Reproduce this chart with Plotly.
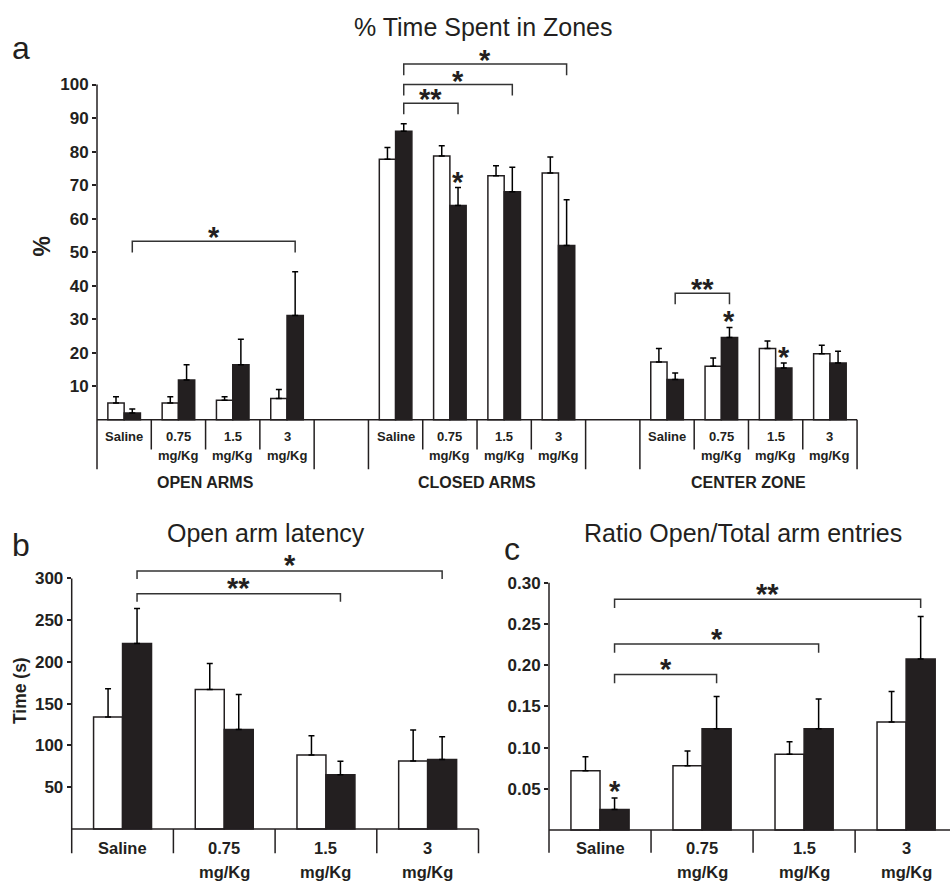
import plotly.graph_objects as go

W, H = 950, 882
FONT = "Liberation Sans, Arial, Helvetica, sans-serif"
INK = "#231f20"

# ---------------- data ----------------
doses_top = ["Saline", "0.75", "1.5", "3"]
doses_bottom = ["", "mg/Kg", "mg/Kg", "mg/Kg"]
zones = ["OPEN ARMS", "CLOSED ARMS", "CENTER ZONE"]

# panel a: % time spent in zones (white = control, black = treated)
open_white = [5.0, 5.0, 5.8, 6.3]
open_white_err = [1.8, 1.8, 1.0, 2.7]
open_black = [2.0, 11.8, 16.4, 31.1]
open_black_err = [1.2, 4.6, 7.6, 13.0]
closed_white = [77.7, 78.7, 72.8, 73.6]
closed_white_err = [3.5, 3.0, 3.0, 4.8]
closed_black = [86.1, 63.9, 68.0, 52.0]
closed_black_err = [2.2, 5.4, 7.3, 13.6]
center_white = [17.2, 15.9, 21.2, 19.7]
center_white_err = [4.0, 2.5, 2.3, 2.5]
center_black = [12.0, 24.5, 15.4, 16.9]
center_black_err = [1.9, 3.0, 1.5, 3.5]

# panel b: open arm latency (s)
latency_white = [134, 167, 88.6, 81.4]
latency_white_err = [34, 31, 23, 37]
latency_black = [222, 119, 65, 83.3]
latency_black_err = [42, 42, 16, 27]

# panel c: ratio open / total arm entries
ratio_white = [0.072, 0.078, 0.092, 0.131]
ratio_white_err = [0.017, 0.018, 0.015, 0.037]
ratio_black = [0.025, 0.123, 0.123, 0.2075]
ratio_black_err = [0.014, 0.039, 0.036, 0.0515]

# significance brackets: (from category slot, to category slot, level, label)
sig_a = [(0, 3, 53.2, "*"), (5, 6, 94.4, "**"), (5, 7, 100.0, "*"),
         (5, 8, 106.1, "*"), (10, 11, 37.7, "**")]
sig_b = [(0, 2, 281.8, "**"), (0, 3, 309.0, "*")]
sig_c = [(0, 1, 0.1887, "*"), (0, 2, 0.2256, "*"), (0, 3, 0.2799, "**")]
# single stars above black bars: (slot, level)
star_a = [(6, 72.4), (11, 30.9), (12, 20.2)]
star_c = [(0, 0.054)]

# ---------------- geometry helpers (layout only) ----------------
def xdom(px0, scale, rng):
    return [px0 / W, min(1.0, (px0 + (rng[1] - rng[0]) * scale) / W)]

def ydom(pzero, scale, rng):
    top = pzero - rng[1] * scale
    bot = pzero - rng[0] * scale
    return [max(0.0, 1 - bot / H), min(1.0, 1 - top / H)]

def px(x):
    return x / W

def py(y):
    return 1 - y / H

rng_xa, rng_ya = [0, 14.15], [-22, 112]
rng_xb, rng_yb = [0, 4.1], [-60, 330]
rng_xc, rng_yc = [0, 3.93], [-0.062, 0.305]

fig = go.Figure()

BW_A, BW_B = 0.30, 0.285
err_style = dict(type="data", symmetric=False, color="black", thickness=1.5, width=3)


def add_pair(xs, white, werr, black, berr, xa, ya, bw):
    fig.add_trace(go.Bar(x=xs, y=white, width=bw, offset=-bw, xaxis=xa, yaxis=ya,
                         marker=dict(color="white", line=dict(color=INK, width=1.5)),
                         error_y=dict(array=werr, arrayminus=[0] * len(werr), **err_style),
                         showlegend=False, hoverinfo="y"))
    fig.add_trace(go.Bar(x=xs, y=black, width=bw, offset=0, xaxis=xa, yaxis=ya,
                         marker=dict(color=INK, line=dict(color=INK, width=1.5)),
                         error_y=dict(array=berr, arrayminus=[0] * len(berr), **err_style),
                         showlegend=False, hoverinfo="y"))


# panel a: three zones, 4 doses each, one empty slot between zones
groups_a = [(open_white, open_white_err, open_black, open_black_err),
            (closed_white, closed_white_err, closed_black, closed_black_err),
            (center_white, center_white_err, center_black, center_black_err)]
for z, (w, we, b, be) in enumerate(groups_a):
    xs = [z * 5 + d + 0.5 for d in range(len(doses_top))]
    add_pair(xs, w, we, b, be, "x", "y", BW_A)

xs4 = [d + 0.5 for d in range(len(doses_top))]
add_pair(xs4, latency_white, latency_white_err, latency_black, latency_black_err, "x2", "y2", BW_B)
add_pair(xs4, ratio_white, ratio_white_err, ratio_black, ratio_black_err, "x3", "y3", BW_B)

shapes = []
annotations = []
LINE = dict(color=INK, width=1.5)
BRK = dict(color="#333333", width=1.5)


def vline(xr, yr, x, y0, y1, line=LINE):
    shapes.append(dict(type="line", xref=xr, yref=yr, x0=x, x1=x, y0=y0, y1=y1, line=line))


def hline(xr, yr, x0, x1, y, line=LINE):
    shapes.append(dict(type="line", xref=xr, yref=yr, x0=x0, x1=x1, y0=y, y1=y, line=line))


# ---- panel a axes / category boxes
vline("x domain", "y", 0, -14.8, 100)
hline("x", "y", 0, 14, 0)
for z in range(3):
    for d in range(5):
        s = z * 5 + d
        if s == 0:
            continue
        long = d in (0, 4)
        vline("x", "y", s, 0, -14.8 if long else -8.9)
    for d in range(4):
        s = z * 5 + d + 0.5
        annotations.append(dict(x=s, y=-5.0, xref="x", yref="y", text=doses_top[d],
                                showarrow=False, font=dict(size=13, family=FONT, color=INK, weight="bold")))
        if doses_bottom[d]:
            annotations.append(dict(x=s, y=-10.6, xref="x", yref="y", text=doses_bottom[d],
                                    showarrow=False, font=dict(size=13, family=FONT, color=INK, weight="bold")))
    annotations.append(dict(x=z * 5 + 2, y=-18.7, xref="x", yref="y", text=zones[z], showarrow=False,
                            font=dict(size=16, family=FONT, color=INK, weight="bold")))

# ---- panels b, c axes / category boxes
for xr, yr, top, drop, lab_top, lab_bot in [("x2", "y2", 300, -28.9, -23.3, -51),
                                            ("x3", "y3", 0.30, -0.0276, -0.0223, -0.0505)]:
    vline(xr + " domain", yr, 0, drop, top)
    hline(xr, yr, 0, 4, 0)
    for d in range(1, 5):
        vline(xr, yr, d, 0, drop)
    for d in range(4):
        annotations.append(dict(x=d + 0.5, y=lab_top, xref=xr, yref=yr, text=doses_top[d], showarrow=False,
                                font=dict(size=16.5, family=FONT, color=INK, weight="bold")))
        if doses_bottom[d]:
            annotations.append(dict(x=d + 0.5, y=lab_bot, xref=xr, yref=yr, text=doses_bottom[d],
                                    showarrow=False, font=dict(size=16.5, family=FONT, color=INK, weight="bold")))


STAR = 29


# ---- significance brackets
def brackets(sig, xr, yr, bw, leg, shift):
    for s0, s1, lev, lab in sig:
        x0 = s0 + 0.5 + bw / 2
        x1 = s1 + 0.5 + bw / 2
        shapes.append(dict(type="path", xref=xr, yref=yr, line=BRK,
                           path=f"M {x0},{lev - leg} L {x0},{lev} L {x1},{lev} L {x1},{lev - leg}"))
        annotations.append(dict(x=(x0 + x1) / 2, y=lev, xref=xr, yref=yr, text=lab, showarrow=False,
                                yanchor="middle", yshift=shift,
                                font=dict(size=STAR, family=FONT, color=INK, weight="bold")))


brackets(sig_a, "x", "y", BW_A, 3.3, 4)
brackets(sig_b, "x2", "y2", BW_B, 9.8, 6)
brackets(sig_c, "x3", "y3", BW_B, 0.0105, 5)
for s, lev in star_a:
    annotations.append(dict(x=s + 0.5 + BW_A / 2, y=lev, xref="x", yref="y", text="*", showarrow=False,
                            yanchor="middle", yshift=-5, font=dict(size=STAR, family=FONT, color=INK, weight="bold")))
for s, lev in star_c:
    annotations.append(dict(x=s + 0.5 + BW_B / 2, y=lev, xref="x3", yref="y3", text="*", showarrow=False,
                            yanchor="middle", yshift=-5, font=dict(size=STAR, family=FONT, color=INK, weight="bold")))

# ---- titles, panel letters, axis titles (paper coords)
def ptext(x, y, text, size, bold=False, angle=0):
    annotations.append(dict(x=px(x), y=py(y), xref="paper", yref="paper", text=text, showarrow=False,
                            textangle=angle, xanchor="center", yanchor="middle",
                            font=dict(size=size, family=FONT, color=INK, weight="bold" if bold else "normal")))


ptext(483, 22, "% Time Spent in Zones", 25)
ptext(266, 531, "Open arm latency", 25)
ptext(743, 531, "Ratio Open/Total arm entries", 25)
ptext(21, 43, "a", 32)
ptext(21, 543, "b", 32)
ptext(512, 547, "c", 32)
ptext(42, 243, "%", 23, bold=True, angle=-90)
ptext(20, 690, "Time (s)", 17.5, bold=True, angle=-90)

xaxis_common = dict(showgrid=False, zeroline=False, showline=False, showticklabels=False, ticks="", fixedrange=True)
yaxis_common = dict(showgrid=False, zeroline=False, showline=False, ticks="outside", ticklen=4, tickwidth=1.5,
                    tickcolor=INK, fixedrange=True,
                    tickfont=dict(size=17, family=FONT, color=INK, weight="bold"))

fig.update_layout(
    width=W, height=H, margin=dict(l=0, r=0, t=0, b=0),
    plot_bgcolor="white", paper_bgcolor="white", barmode="overlay", showlegend=False,
    xaxis=dict(range=rng_xa, domain=xdom(97, 54.29, rng_xa), anchor="y", **xaxis_common),
    yaxis=dict(range=rng_ya, domain=ydom(417, 3.37, rng_ya), anchor="x",
               tickvals=[10, 20, 30, 40, 50, 60, 70, 80, 90, 100], **yaxis_common),
    xaxis2=dict(range=rng_xb, domain=xdom(71.7, 101.7, rng_xb), anchor="y2", **xaxis_common),
    yaxis2=dict(range=rng_yb, domain=ydom(828.7, 0.84, rng_yb), anchor="x2",
                tickvals=[50, 100, 150, 200, 250, 300], **yaxis_common),
    xaxis3=dict(range=rng_xc, domain=xdom(549, 102.04, rng_xc), anchor="y3", **xaxis_common),
    yaxis3=dict(range=rng_yc, domain=ydom(829.8, 829.3, rng_yc), anchor="x3",
                tickvals=[0.05, 0.10, 0.15, 0.20, 0.25, 0.30],
                ticktext=["0.05", "0.10", "0.15", "0.20", "0.25", "0.30"], **yaxis_common),
    shapes=shapes, annotations=annotations,
)

fig.write_html("out.html", config={"displayModeBar": False},
               post_script="document.body.style.margin='0px';")
